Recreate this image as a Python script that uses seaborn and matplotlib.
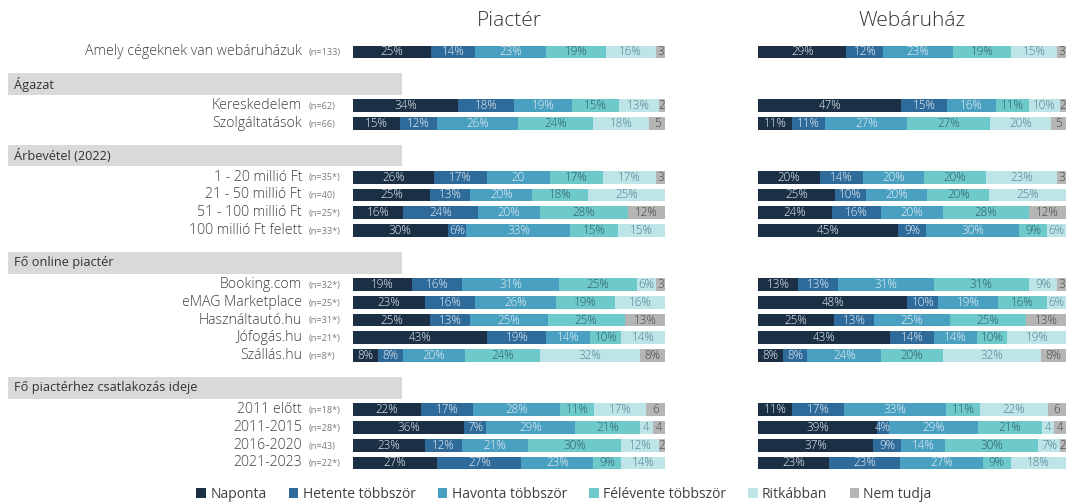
import matplotlib
matplotlib.use("Agg")
import matplotlib.pyplot as plt
from matplotlib.patches import Rectangle
from matplotlib import transforms
import numpy as np
import pandas as pd
import seaborn as sns

# Answer categories (stack order) and their colours
CATEGORIES = ["Naponta", "Hetente többször", "Havonta többször",
              "Félévente többször", "Ritkábban", "Nem tudja"]
COLORS = ["#1b2f45", "#2f6b9a", "#4aa0c0", "#6ec9cb", "#bde5e8", "#b5b5b5"]
LABEL_COLORS = ["#eef4f8", "#eef4f8", "#eef4f8", "#2e5a6a", "#4f7f90", "#444444"]

# Row groups: (header, rows)
GROUP_HEADERS = [None, "Ágazat", "Árbevétel (2022)", "Fő online piactér",
                 "Fő piactérhez csatlakozás ideje"]
GROUP_ROWS = [
    ["Amely cégeknek van webáruházuk"],
    ["Kereskedelem", "Szolgáltatások"],
    ["1 - 20 millió Ft", "21 - 50 millió Ft", "51 - 100 millió Ft", "100 millió Ft felett"],
    ["Booking.com", "eMAG Marketplace", "Használtautó.hu", "Jófogás.hu", "Szállás.hu"],
    ["2011 előtt", "2011-2015", "2016-2020", "2021-2023"],
]
SAMPLE_SIZES = ["(n=133)", "(n=62)", "(n=66)", "(n=35*)", "(n=40)", "(n=25*)",
                "(n=33*)", "(n=32*)", "(n=25*)", "(n=31*)", "(n=21*)", "(n=8*)",
                "(n=18*)", "(n=28*)", "(n=43)", "(n=22*)"]

# Shares (%) per row, in CATEGORIES order
PIACTER = [
    [25, 14, 23, 19, 16, 3],
    [34, 18, 19, 15, 13, 2],
    [15, 12, 26, 24, 18, 5],
    [26, 17, 20, 17, 17, 3],
    [25, 13, 20, 18, 25, 0],
    [16, 24, 20, 28, 0, 12],
    [30, 6, 33, 15, 15, 0],
    [19, 16, 31, 25, 6, 3],
    [23, 16, 26, 19, 16, 0],
    [25, 13, 25, 25, 0, 13],
    [43, 19, 14, 10, 14, 0],
    [8, 8, 20, 24, 32, 8],
    [22, 17, 28, 11, 17, 6],
    [36, 7, 29, 21, 4, 4],
    [23, 12, 21, 30, 12, 2],
    [27, 27, 23, 9, 14, 0],
]
WEBARUHAZ = [
    [29, 12, 23, 19, 15, 3],
    [47, 15, 16, 11, 10, 2],
    [11, 11, 27, 27, 20, 5],
    [20, 14, 20, 20, 23, 3],
    [25, 10, 20, 20, 25, 0],
    [24, 16, 20, 28, 0, 12],
    [45, 9, 30, 9, 6, 0],
    [13, 13, 31, 31, 9, 3],
    [48, 10, 19, 16, 6, 0],
    [25, 13, 25, 25, 0, 13],
    [43, 14, 14, 10, 19, 0],
    [8, 8, 24, 20, 32, 8],
    [11, 17, 33, 11, 22, 6],
    [39, 4, 29, 21, 4, 4],
    [37, 9, 14, 30, 7, 2],
    [23, 23, 27, 9, 18, 0],
]
PANEL_TITLES = ["Piactér", "Webáruház"]
# labels printed without a percent sign: (panel, row, category)
PLAIN_LABELS = {(0, 3, 2)}

FONT = ["Open Sans", "DejaVu Sans"]

sns.set_theme(style="white")
plt.rcParams["font.family"] = FONT

# Slot order on the categorical y axis: a blank slot and a header slot precede each group
order, header_slots, row_names = [], [], []
for gi, (hdr, rows) in enumerate(zip(GROUP_HEADERS, GROUP_ROWS)):
    if hdr is not None:
        order += [f"_gap{gi}", f"_hdr{gi}"]
        header_slots.append((len(order) - 1, hdr))
    order += rows
    row_names += rows

W, H = 1066, 504
fig = plt.figure(figsize=(W / 100, H / 100), dpi=100)

n_slots = len(order)
y_first, y_last = 52, 463
pitch = (y_last - y_first) / (n_slots - 1)
ax_top = y_first - pitch / 2
ax_h = pitch * n_slots
panel_x = [(353, 665), (758, 1066)]


def build_frame(values):
    recs = []
    for name, vals in zip(row_names, values):
        vals = np.asarray(vals, dtype=float)
        total = vals.sum()
        ends = np.cumsum(vals) / total * 100
        starts = ends - vals / total * 100
        for ci, cat in enumerate(CATEGORIES):
            recs.append(dict(row=name, cat=cat, ci=ci, value=vals[ci],
                             start=starts[ci], end=ends[ci]))
    return pd.DataFrame(recs)


axes = []
for pi, (values, title) in enumerate(zip([PIACTER, WEBARUHAZ], PANEL_TITLES)):
    x0, x1 = panel_x[pi]
    ax = fig.add_axes([x0 / W, 1 - (ax_top + ax_h) / H, (x1 - x0) / W, ax_h / H])
    df = build_frame(values)
    # overlay cumulative bars from the longest to the shortest
    for ci in reversed(range(len(CATEGORIES))):
        sub = df[df.ci == ci]
        sns.barplot(data=sub, x="end", y="row", order=order, orient="h",
                    color=COLORS[ci], saturation=1, width=0.72, errorbar=None,
                    linewidth=0, ax=ax)
    for _, r in df.iterrows():
        if r.value <= 0:
            continue
        ri = row_names.index(r.row)
        v = int(r.value)
        plain = ((pi, ri, r.ci) in PLAIN_LABELS
                 or (r.ci == 5 and v < 7) or (r.ci == 4 and v < 5))
        txt = f"{v}" if plain else f"{v}%"
        ax.text((r.start + r.end) / 2, order.index(r.row), txt,
                ha="center", va="center", fontsize=8.4,
                color=LABEL_COLORS[r.ci], fontweight="light")
    ax.set_xlim(0, 100)
    ax.set_ylim(n_slots - 0.5, -0.5)
    ax.axis("off")
    fig.text(((x0 + x1) / 2) / W, 1 - 21 / H, title, ha="center", va="center",
             fontsize=15, color="#333333", fontweight="light")
    axes.append(ax)

ax = axes[0]
blend = transforms.blended_transform_factory(fig.transFigure, ax.transData)

# Group header bands
for slot, hdr in header_slots:
    yc = slot - 0.2
    ax.add_patch(Rectangle((8 / W, yc - 0.6), (402 - 8) / W, 1.2, transform=blend,
                           facecolor="#d9d9d9", edgecolor="none", clip_on=False))
    ax.text(14 / W, yc, hdr, transform=blend, ha="left", va="center",
            fontsize=9.2, color="#333333", clip_on=False)

# Row labels and sample sizes
for name, n in zip(row_names, SAMPLE_SIZES):
    y = order.index(name)
    ax.text(302 / W, y, name, transform=blend, ha="right", va="center",
            fontsize=10.2, color="#404040", fontweight="light", clip_on=False)
    ax.text(309 / W, y + 0.05, n, transform=blend, ha="left", va="center",
            fontsize=6.6, color="#7a7a7a", clip_on=False)

handles = [Rectangle((0, 0), 1, 1, facecolor=c, edgecolor="none") for c in COLORS]
fig.legend(handles, CATEGORIES, loc="center", bbox_to_anchor=(564 / W, 1 - 494 / H),
           ncol=6, frameon=False, fontsize=10, handlelength=0.7, handleheight=0.7,
           handletextpad=0.3, columnspacing=1.6, labelcolor="#404040")

fig.savefig("out.png", dpi=100, facecolor="white")
